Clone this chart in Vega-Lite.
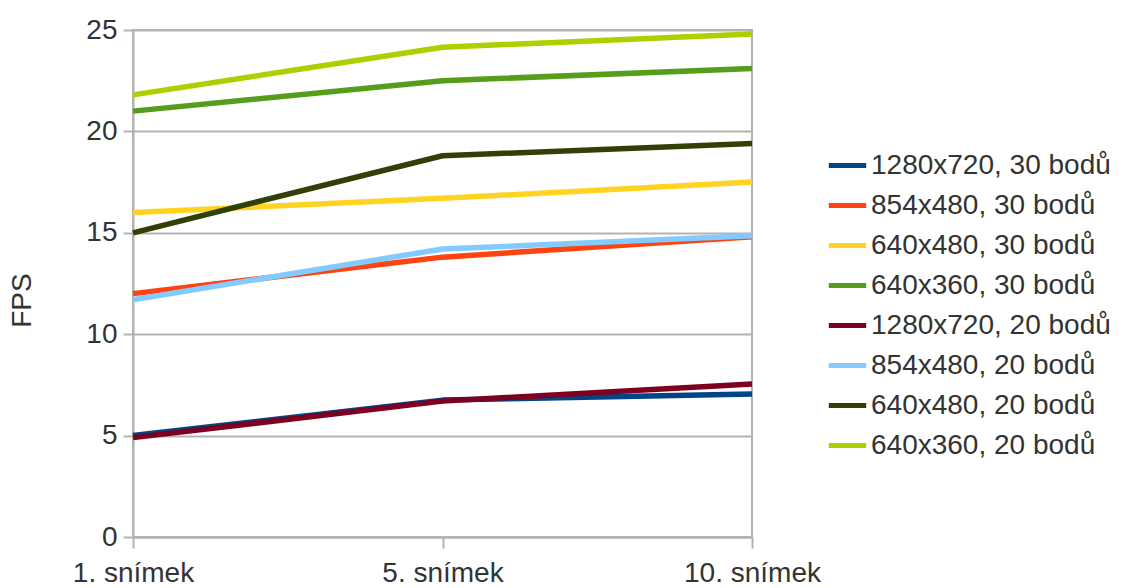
{
  "$schema": "https://vega.github.io/schema/vega-lite/v6.json",
  "width": 619,
  "height": 507,
  "autosize": "none",
  "padding": {"left": 133, "top": 30, "right": 372, "bottom": 51},
  "background": "white",
  "config": {
    "font": "Liberation Sans",
    "view": {"stroke": "#b3b3b3", "strokeWidth": 2}
  },
  "data": {
    "values": [
      {"snimek": "1. snímek", "serie": "1280x720, 30 bodů", "fps": 5.0},
      {"snimek": "5. snímek", "serie": "1280x720, 30 bodů", "fps": 6.75},
      {"snimek": "10. snímek", "serie": "1280x720, 30 bodů", "fps": 7.05},
      {"snimek": "1. snímek", "serie": "854x480, 30 bodů", "fps": 12.0},
      {"snimek": "5. snímek", "serie": "854x480, 30 bodů", "fps": 13.8},
      {"snimek": "10. snímek", "serie": "854x480, 30 bodů", "fps": 14.8},
      {"snimek": "1. snímek", "serie": "640x480, 30 bodů", "fps": 16.0},
      {"snimek": "5. snímek", "serie": "640x480, 30 bodů", "fps": 16.7},
      {"snimek": "10. snímek", "serie": "640x480, 30 bodů", "fps": 17.5},
      {"snimek": "1. snímek", "serie": "640x360, 30 bodů", "fps": 21.0},
      {"snimek": "5. snímek", "serie": "640x360, 30 bodů", "fps": 22.5},
      {"snimek": "10. snímek", "serie": "640x360, 30 bodů", "fps": 23.1},
      {"snimek": "1. snímek", "serie": "1280x720, 20 bodů", "fps": 4.9},
      {"snimek": "5. snímek", "serie": "1280x720, 20 bodů", "fps": 6.7},
      {"snimek": "10. snímek", "serie": "1280x720, 20 bodů", "fps": 7.55},
      {"snimek": "1. snímek", "serie": "854x480, 20 bodů", "fps": 11.7},
      {"snimek": "5. snímek", "serie": "854x480, 20 bodů", "fps": 14.2},
      {"snimek": "10. snímek", "serie": "854x480, 20 bodů", "fps": 14.85},
      {"snimek": "1. snímek", "serie": "640x480, 20 bodů", "fps": 15.0},
      {"snimek": "5. snímek", "serie": "640x480, 20 bodů", "fps": 18.8},
      {"snimek": "10. snímek", "serie": "640x480, 20 bodů", "fps": 19.4},
      {"snimek": "1. snímek", "serie": "640x360, 20 bodů", "fps": 21.8},
      {"snimek": "5. snímek", "serie": "640x360, 20 bodů", "fps": 24.15},
      {"snimek": "10. snímek", "serie": "640x360, 20 bodů", "fps": 24.8}
    ]
  },
  "mark": {"type": "line", "strokeWidth": 5.5, "strokeCap": "butt", "strokeJoin": "round"},
  "encoding": {
    "x": {
      "field": "snimek",
      "type": "ordinal",
      "sort": ["1. snímek", "5. snímek", "10. snímek"],
      "scale": {"type": "point", "padding": 0},
      "axis": {
        "title": null,
        "labelAngle": 0,
        "labelFontSize": 28,
        "labelColor": "#333333",
        "labelPadding": 11,
        "tickSize": 11,
        "tickColor": "#b3b3b3",
        "tickWidth": 2,
        "domainColor": "#b3b3b3",
        "domainWidth": 2,
        "grid": false,
        "labelOverlap": false
      }
    },
    "y": {
      "field": "fps",
      "type": "quantitative",
      "scale": {"domain": [0, 25], "nice": false},
      "axis": {
        "title": "FPS",
        "titleFontSize": 28,
        "titleFontWeight": "normal",
        "titleColor": "#333333",
        "titleX": -97,
        "titleY": 270,
        "values": [0, 5, 10, 15, 20, 25],
        "labelFontSize": 28,
        "labelColor": "#333333",
        "labelPadding": 6,
        "tickSize": 10,
        "tickColor": "#b3b3b3",
        "tickWidth": 2,
        "domainColor": "#b3b3b3",
        "domainWidth": 2,
        "gridColor": "#b3b3b3",
        "gridWidth": 2
      }
    },
    "color": {
      "field": "serie",
      "type": "nominal",
      "sort": null,
      "scale": {
        "domain": ["1280x720, 30 bodů", "854x480, 30 bodů", "640x480, 30 bodů", "640x360, 30 bodů", "1280x720, 20 bodů", "854x480, 20 bodů", "640x480, 20 bodů", "640x360, 20 bodů"],
        "range": ["#004586", "#ff420e", "#ffd320", "#579d1c", "#7e0021", "#83caff", "#314004", "#aecf00"]
      },
      "legend": {
        "title": null,
        "orient": "none",
        "legendX": 693,
        "legendY": 114,
        "symbolType": "stroke",
        "symbolSize": 1400,
        "symbolStrokeWidth": 5,
        "labelFontSize": 28,
        "labelColor": "#333333",
        "labelOffset": 2,
        "rowPadding": 4,
        "labelLimit": 400
      }
    }
  }
}
